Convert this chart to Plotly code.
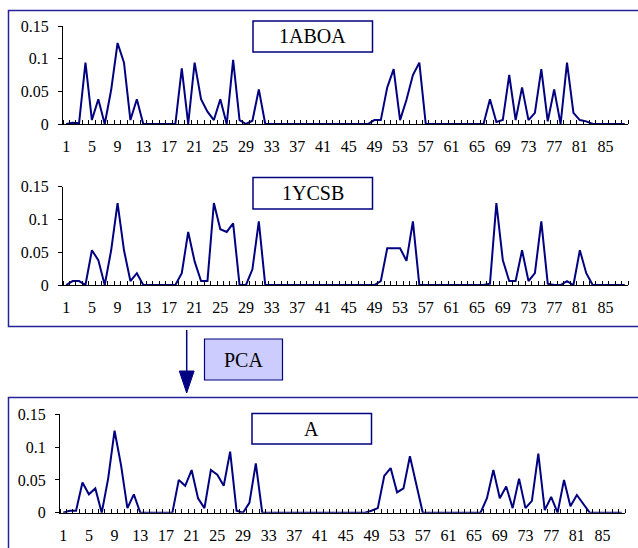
import plotly.graph_objects as go

W, H = 638, 548

categories = list(range(1, 89))
tick_labels = [str(i) for i in range(1, 89, 4)]

abo_a = [0, 0.002, 0.001, 0.094, 0.006, 0.038, 0, 0.052, 0.124, 0.094,
         0.006, 0.038, 0, 0, 0, 0, 0, 0, 0.085, 0,
         0.094, 0.038, 0.019, 0.006, 0.038, 0, 0.098, 0.006, 0, 0.005,
         0.053, 0, 0, 0, 0, 0, 0, 0, 0, 0,
         0, 0, 0, 0, 0, 0, 0, 0, 0.006, 0.006,
         0.056, 0.084, 0.006, 0.037, 0.075, 0.094, 0, 0, 0, 0,
         0, 0, 0, 0, 0, 0, 0.038, 0.003, 0.006, 0.075,
         0.006, 0.056, 0.006, 0.017, 0.084, 0.004, 0.053, 0, 0.094, 0.017,
         0.006, 0.004, 0, 0, 0, 0, 0, 0]

ycsb = [0, 0.006, 0.006, 0, 0.053, 0.038, 0, 0.053, 0.125, 0.053,
        0.006, 0.018, 0, 0, 0, 0, 0, 0, 0.018, 0.081,
        0.036, 0.006, 0.006, 0.125, 0.085, 0.081, 0.094, 0, 0, 0.024,
        0.097, 0, 0, 0, 0, 0, 0, 0, 0, 0,
        0, 0, 0, 0, 0, 0, 0, 0, 0, 0.006,
        0.056, 0.056, 0.056, 0.037, 0.097, 0, 0, 0, 0, 0,
        0, 0, 0, 0, 0, 0, 0.002, 0.125, 0.038, 0.006,
        0.006, 0.053, 0.006, 0.018, 0.097, 0.002, 0, 0, 0.006, 0,
        0.053, 0.018, 0, 0, 0, 0, 0, 0]

pca_a = [0, 0.003, 0.003, 0.046, 0.028, 0.037, 0, 0.052, 0.125, 0.073,
         0.007, 0.028, 0, 0, 0, 0, 0, 0, 0.050, 0.041,
         0.065, 0.022, 0.007, 0.065, 0.058, 0.041, 0.093, 0.003, 0, 0.015,
         0.075, 0, 0, 0, 0, 0, 0, 0, 0, 0,
         0, 0, 0, 0, 0, 0, 0, 0, 0.003, 0.007,
         0.056, 0.068, 0.031, 0.037, 0.086, 0.045, 0, 0, 0, 0,
         0, 0, 0, 0, 0, 0, 0.022, 0.065, 0.022, 0.040,
         0.007, 0.052, 0.007, 0.018, 0.090, 0.004, 0.024, 0, 0.050, 0.010,
         0.027, 0.014, 0, 0, 0, 0, 0, 0]

panel_names = ["1ABOA", "1YCSB", "A"]
series = [abo_a, ycsb, pca_a]

y_ticks = [0, 0.05, 0.1, 0.15]
y_tick_text = ["0", "0.05", "0.1", "0.15"]

NAVY = "#000080"
FONT = "Liberation Serif"


def px(x):
    return x / W


def py(y):
    return 1 - y / H


# plot-area pixel boxes: (left, right, top, bottom)
boxes = [(63, 628, 26, 124), (63, 628, 186.7, 285), (60, 625, 414.3, 512.7)]

fig = go.Figure()
layout = dict(
    width=W, height=H, margin=dict(l=0, r=0, t=0, b=0, autoexpand=False),
    paper_bgcolor="white", plot_bgcolor="white", showlegend=False,
    font=dict(family=FONT, size=16, color="black"),
)

for i, (vals, box) in enumerate(zip(series, boxes)):
    n = "" if i == 0 else str(i + 1)
    fig.add_trace(go.Scatter(x=categories, y=vals, mode="lines",
                             line=dict(color=NAVY, width=2),
                             xaxis="x" + n, yaxis="y" + n, cliponaxis=False))
    l, r, t, b = box
    layout["xaxis" + n] = dict(
        domain=[px(l), px(r)], range=[0.5, 88.5], anchor="y" + n,
        automargin=False,
        tickmode="array", tickvals=list(range(1, 89, 4)), ticktext=tick_labels,
        ticks="", showgrid=False, zeroline=False,
        showline=True, linecolor="black", linewidth=1,
        ticklabelstandoff=8,
        tickfont=dict(family=FONT, size=16, color="black"),
        minor=dict(ticks="inside", ticklen=4, tickcolor="black", tickwidth=1,
                   tick0=0.5, dtick=1, showgrid=False),
    )
    layout["yaxis" + n] = dict(
        domain=[py(b), py(t)], range=[0, 0.15], anchor="x" + n,
        automargin=False,
        tickmode="array", tickvals=y_ticks, ticktext=y_tick_text,
        ticks="outside", ticklen=4, tickcolor="black",
        showgrid=False, zeroline=False,
        showline=True, linecolor="black", linewidth=1,
        ticklabelstandoff=6,
        tickfont=dict(family=FONT, size=16, color="black"),
    )

fig.update_layout(**layout)

BORDER = "#24249a"
shapes = []
# outer frames
shapes.append(dict(type="rect", xref="paper", yref="paper",
                   x0=px(8.5), x1=px(645), y0=py(10.5), y1=py(326.5),
                   line=dict(color=BORDER, width=1.5), layer="below"))
shapes.append(dict(type="rect", xref="paper", yref="paper",
                   x0=px(8.5), x1=px(645), y0=py(397.5), y1=py(560),
                   line=dict(color=BORDER, width=1.5), layer="below"))

# label boxes
label_boxes = [(253, 372.5, 21, 52), (253, 372.5, 177.5, 209), (252, 371.5, 413.5, 444)]
annotations = []
for name, (l, r, t, b) in zip(panel_names, label_boxes):
    shapes.append(dict(type="rect", xref="paper", yref="paper",
                       x0=px(l), x1=px(r), y0=py(b), y1=py(t),
                       line=dict(color=NAVY, width=1.5), fillcolor="white"))
    annotations.append(dict(text=name, xref="paper", yref="paper",
                            x=px((l + r) / 2), y=py((t + b) / 2),
                            xanchor="center", yanchor="middle", showarrow=False,
                            font=dict(family=FONT, size=20, color="black")))

# PCA box
shapes.append(dict(type="rect", xref="paper", yref="paper",
                   x0=px(204.5), x1=px(282.5), y0=py(380), y1=py(339),
                   line=dict(color=NAVY, width=1.2), fillcolor="#CCCCFF"))
annotations.append(dict(text="PCA", xref="paper", yref="paper",
                        x=px(243.5), y=py(359.5), xanchor="center", yanchor="middle",
                        showarrow=False, font=dict(family=FONT, size=20, color="black")))

# arrow
shapes.append(dict(type="line", xref="paper", yref="paper",
                   x0=px(186.7), x1=px(186.7), y0=py(330), y1=py(375),
                   line=dict(color=NAVY, width=1.5)))
shapes.append(dict(type="path", xref="paper", yref="paper",
                   path=f"M {px(179.3)} {py(371)} L {px(194.1)} {py(371)} L {px(186.7)} {py(393)} Z",
                   line=dict(color=NAVY, width=1), fillcolor=NAVY))

fig.update_layout(shapes=shapes, annotations=annotations)

fig.write_html("out.html", config={"displayModeBar": False, "staticPlot": True},
               post_script="document.body.style.margin='0';document.body.style.overflow='hidden';")
